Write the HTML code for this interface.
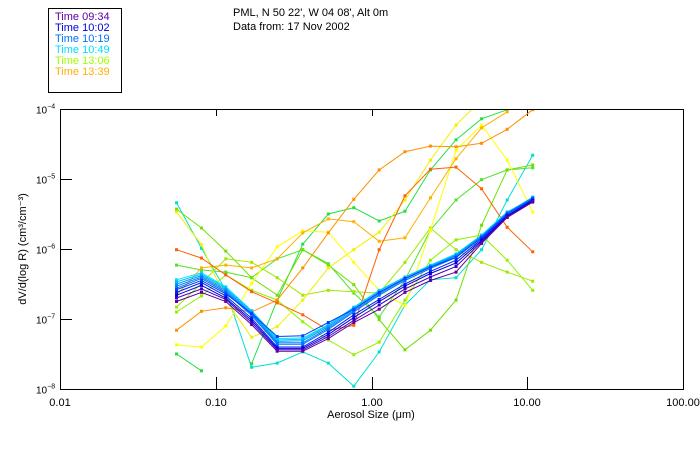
<!DOCTYPE html>
<html><head><meta charset="utf-8"><style>
body{margin:0;background:#fff;}
svg{display:block;font-family:"Liberation Sans",sans-serif;}
</style></head><body>
<svg id="chart" width="700" height="450" viewBox="0 0 700 450">
<rect x="0" y="0" width="700" height="450" fill="#fff"/>
<text x="233" y="16" font-size="11">PML, N 50 22', W 04 08', Alt 0m</text>
<text x="233" y="30" font-size="11">Data from: 17 Nov 2002</text>
<g>
<rect x="48.5" y="8.5" width="73" height="84" fill="#fff" stroke="#000"/>
<text x="55" y="20" font-size="11" fill="#6000a0">Time 09:34</text>
<text x="55" y="31" font-size="11" fill="#0000e0">Time 10:02</text>
<text x="55" y="42" font-size="11" fill="#0070ff">Time 10:19</text>
<text x="55" y="53" font-size="11" fill="#00e0ff">Time 10:49</text>
<text x="55" y="64" font-size="11" fill="#a0ff00">Time 13:06</text>
<text x="55" y="75" font-size="11" fill="#ffb000">Time 13:39</text>
</g>
<defs><clipPath id="plotclip"><rect x="60" y="109" width="623" height="280"/></clipPath></defs>
<g id="axes"></g>
<g id="series" clip-path="url(#plotclip)"></g>
<rect x="60.5" y="109.5" width="623" height="280" fill="none" stroke="#000"/>
<text x="371" y="418" font-size="11" text-anchor="middle">Aerosol Size (μm)</text>
<text transform="translate(26,249) rotate(-90)" font-size="11" text-anchor="middle">dV/d(log R) (cm³/cm⁻³)</text>
</svg>
<script>
// aerosol sizes (micrometres)
const sizes = [0.056,0.081,0.116,0.170,0.248,0.362,0.528,0.770,1.12,1.64,2.39,3.49,5.09,7.43,10.84];
const xTickValues = [0.01,0.1,1,10,100];
const xTickLabels = ["0.01","0.10","1.00","10.00","100.00"];
const yTickExps = [-4,-5,-6,-7,-8];
// log10 of dV/dlogR per series
const s0934 = [-6.75,-6.62,-6.75,-7.08,-7.46,-7.46,-7.28,-7.05,-6.86,-6.62,-6.45,-6.33,-5.92,-5.55,-5.33];
const s0950 = [-6.70,-6.57,-6.72,-7.05,-7.44,-7.44,-7.25,-7.02,-6.80,-6.57,-6.40,-6.25,-5.90,-5.54,-5.32];
const s1002 = [-6.66,-6.52,-6.70,-7.02,-7.42,-7.42,-7.22,-6.98,-6.75,-6.53,-6.35,-6.20,-5.88,-5.53,-5.31];
const s1008 = [-6.62,-6.48,-6.67,-6.99,-7.40,-7.40,-7.19,-6.94,-6.72,-6.50,-6.32,-6.16,-5.86,-5.52,-5.30];
const s1012 = [-6.58,-6.45,-6.64,-6.92,-7.25,-7.24,-7.05,-6.86,-6.62,-6.42,-6.26,-6.12,-5.84,-5.50,-5.29];
const s1019 = [-6.56,-6.42,-6.62,-6.95,-7.36,-7.36,-7.15,-6.90,-6.66,-6.45,-6.28,-6.12,-5.84,-5.50,-5.28];
const s1025 = [-6.53,-6.40,-6.60,-6.93,-7.34,-7.34,-7.13,-6.88,-6.64,-6.43,-6.26,-6.10,-5.82,-5.49,-5.27];
const s1033 = [-6.50,-6.38,-6.58,-6.91,-7.32,-7.31,-7.11,-6.86,-6.62,-6.42,-6.25,-6.09,-5.82,-5.48,-5.27];
const s1041 = [-6.47,-6.36,-6.56,-6.89,-7.30,-7.29,-7.09,-6.84,-6.60,-6.40,-6.24,-6.08,-5.81,-5.48,-5.26];
const s1049 = [-6.44,-6.34,-6.54,-6.88,-7.28,-7.27,-7.08,-6.83,-6.59,-6.40,-6.23,-6.07,-5.80,-5.47,-5.28];
const sCyan = [-5.34,-5.99,-6.59,-7.69,-7.63,-7.47,-7.63,-7.96,-7.47,-6.80,-6.44,-6.41,-6.01,-5.30,-4.66];
const sGreenA = [-7.50,-7.74,null,-7.64,-6.73,-5.93,-5.50,-5.41,-5.60,-5.46,-4.87,-4.44,-4.14,-4.01,-3.97];
const sGreenB = [-6.23,-6.30,-6.33,-6.41,-6.14,-6.01,-6.21,-6.63,-6.97,-6.44,-5.73,-5.30,-5.01,-4.87,-4.84];
const sLimeA = [-5.43,-5.70,-6.03,-6.41,-6.66,-6.01,-6.23,-6.51,-7.01,-7.44,-7.16,-6.73,-5.66,-4.87,-4.80];
const sLimeB = [-6.83,-6.49,-6.14,-6.19,-6.41,-6.66,-6.59,-6.61,-6.63,-6.19,-5.70,-6.01,-6.19,-6.33,-6.46];
const sLimeC = [-6.90,-6.67,-6.37,-6.59,-6.73,-7.04,-7.30,-7.51,-7.33,-6.73,-6.16,-5.87,-5.80,-6.16,-6.59];
const sYellowA = [-5.47,-5.94,-6.73,-7.26,-7.11,-6.73,-6.27,-6.01,-5.76,-5.30,-4.73,-4.23,-3.87,null,null];
const sYellowB = [-7.37,-7.40,-7.10,-6.49,-5.97,-5.74,-5.76,-6.19,-6.59,-6.81,-5.73,-4.59,-4.23,-4.73,-5.47];
const sOrangeA = [-7.16,-6.89,-6.84,-6.90,-6.73,-6.27,-5.77,-5.29,-4.87,-4.61,-4.53,-4.54,-4.49,-4.29,-4.01];
const sOrangeB = [-6.66,-6.27,-6.23,-6.27,-6.14,-5.77,-5.57,-5.61,-5.89,-5.84,-5.27,-4.71,-4.27,-4.04,null];
const sOrangeRed = [-6.01,-6.13,-6.37,-6.61,-6.77,-6.94,-7.16,-7.09,-6.01,-5.24,-4.86,-4.83,-5.14,-5.69,-6.04];
const seriesList = [
 ["series-cyan-outlier",sCyan,"#00e0d0"],["series-green-a",sGreenA,"#20e040"],["series-green-b",sGreenB,"#50e030"],
 ["series-lime-a",sLimeA,"#70e000"],["series-lime-b",sLimeB,"#a0e800"],["series-lime-c",sLimeC,"#90f000"],
 ["series-yellow-a",sYellowA,"#f0f000"],["series-yellow-b",sYellowB,"#ffff00"],["series-orange-a",sOrangeA,"#ff9000"],
 ["series-orange-b",sOrangeB,"#ffb000"],["series-orange-red",sOrangeRed,"#ff6000"],
 ["series-1049",s1049,"#00e0ff"],["series-1041",s1041,"#00c0ff"],["series-1033",s1033,"#00a0ff"],["series-1025",s1025,"#0080ff"],
 ["series-1019",s1019,"#0070ff"],["series-1012",s1012,"#0040ff"],["series-1008",s1008,"#0020f0"],["series-1002",s1002,"#0000e0"],
 ["series-0950",s0950,"#4000c0"],["series-0934",s0934,"#6000a0"]
];
const NS="http://www.w3.org/2000/svg";
function xPos(v){return 60+(Math.log10(v)+2)*155.75;}
function yPos(e){return 389-(e+8)*70;}
const axes=document.getElementById('axes');
function mk(tag,attrs,parent){const el=document.createElementNS(NS,tag);for(const k in attrs)el.setAttribute(k,attrs[k]);parent.appendChild(el);return el;}
xTickValues.forEach((v,i)=>{
 const x=Math.round(xPos(v))+0.5;
 const t1=mk('line',{x1:x,x2:x,y1:389,y2:377,stroke:'#000'},axes);
 
 
 const t2=mk('line',{x1:x,x2:x,y1:109,y2:116,stroke:'#000'},axes);
 
 
 const lb=mk('text',{x:Math.round(xPos(v)),y:406,'font-size':11,'text-anchor':'middle'},axes);
 lb.textContent=xTickLabels[i];
 
 
});
yTickExps.forEach(e=>{
 const y=Math.round(yPos(e))+0.5;
 const t=mk('line',{x1:60,x2:72,y1:y,y2:y,stroke:'#000'},axes);
 
 
 const lb=mk('text',{x:36,y:y+4,'font-size':10},axes);
 
 
 lb.textContent='10';
 const sp=mk('tspan',{dy:-5,'font-size':7},lb);
 sp.textContent=String(e).replace('-','−');
});
const sg=document.getElementById('series');
seriesList.forEach(([name,vals,col])=>{
 const g=mk('g',{},sg);
 
 
 let d='';let pen=false;
 vals.forEach((v,i)=>{
  if(v===null){pen=false;return;}
  d+=(pen?'L':'M')+xPos(sizes[i]).toFixed(1)+' '+yPos(v).toFixed(1);pen=true;
 });
 const p=mk('path',{d:d,fill:'none',stroke:col,'stroke-width':1},g);
 
 
 vals.forEach((v,i)=>{
  if(v===null)return;
  const r=mk('rect',{x:xPos(sizes[i])-1.5,y:yPos(v)-1.5,width:3,height:3,fill:col},g);
  
  
 });
});
</script>
</body></html>
